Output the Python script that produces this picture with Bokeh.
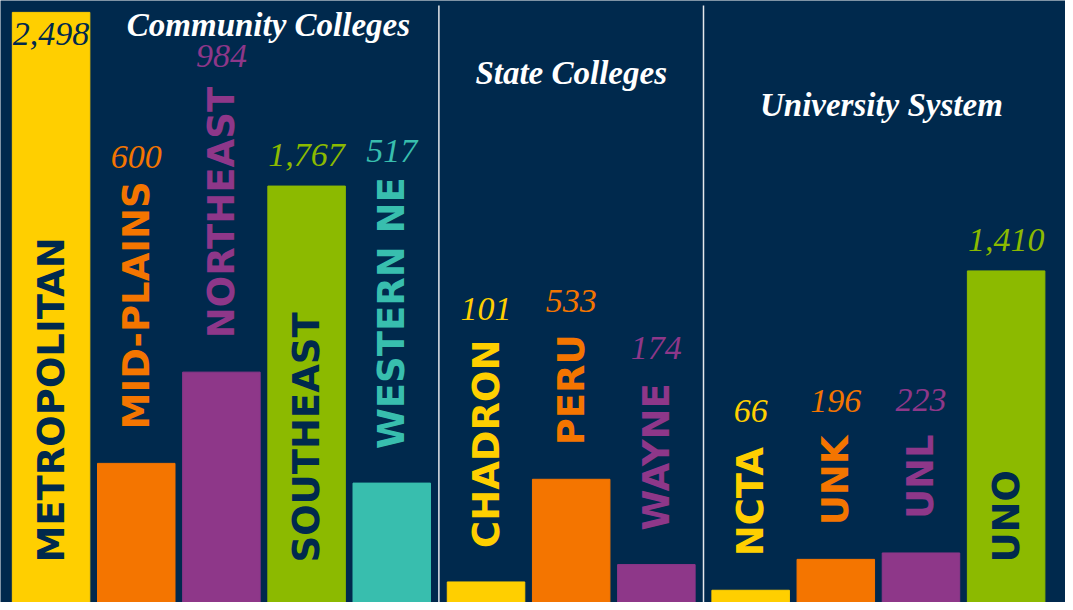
import math
from bokeh.plotting import figure
from bokeh.models import ColumnDataSource, Range1d
from bokeh.core.properties import value
from bokeh.embed import file_html
from bokeh.resources import INLINE

# ---------------- data ----------------
groups = ["Community Colleges", "State Colleges", "University System"]
names = ["METROPOLITAN", "MID-PLAINS", "NORTHEAST", "SOUTHEAST", "WESTERN NE",
         "CHADRON", "PERU", "WAYNE",
         "NCTA", "UNK", "UNL", "UNO"]
group_index = [0, 0, 0, 0, 0, 1, 1, 1, 2, 2, 2, 2]
values = [2498, 600, 984, 1767, 517, 101, 533, 174, 66, 196, 223, 1410]

# ---------------- style ----------------
BG = "#00294D"
YELLOW, ORANGE, PURPLE, GREEN, TEAL = "#FFCF00", "#F47500", "#8E3789", "#8CBA00", "#38BEAE"
colors = [YELLOW, ORANGE, PURPLE, GREEN, TEAL,
          YELLOW, ORANGE, PURPLE,
          YELLOW, ORANGE, PURPLE, GREEN]

W, H = 1065, 602
GAP = 0.107          # extra space between groups (in bar units)
BAR_W = 0.91
X0, X1 = -0.594, 11.911
Y0, Y1 = 14.5, 2548
ppu = H / (Y1 - Y0)  # screen px per value unit

NAME_FS = 37
VAL_FS = 34
TITLE_FS = 33

# approximate advance widths (em) of DejaVu Sans Bold for measuring names
adv = {"A": .774, "C": .734, "D": .830, "E": .683, "H": .837, "I": .372, "K": .775,
       "L": .637, "M": .87, "N": .837, "O": .850, "P": .733, "R": .770, "S": .720,
       "T": .682, "U": .812, "W": 1.03, "Y": .724, "-": .415, " ": .348}

def name_len(s):
    return sum(adv.get(c, .7) for c in s) * NAME_FS * 0.97

xs = [i + GAP * g for i, g in enumerate(group_index)]

p = figure(width=W, height=H, x_range=Range1d(X0, X1), y_range=Range1d(Y0, Y1),
           output_backend="svg", toolbar_location=None, min_border=0,
           background_fill_color=BG, border_fill_color=BG, outline_line_color=None)
p.axis.visible = False
p.grid.visible = False

p.vbar(x=xs, top=values, bottom=0, width=BAR_W, color=colors)

# dividers between groups
div_x = []
for k in range(1, len(groups)):
    last = max(x for x, g in zip(xs, group_index) if g == k - 1)
    first = min(x for x, g in zip(xs, group_index) if g == k)
    div_x.append((last + first) / 2)
div_top = Y1 - 5 / ppu
p.segment(x0=div_x, x1=div_x, y0=[Y0] * len(div_x), y1=[div_top] * len(div_x),
          line_color="#E4E7EB", line_width=1.5)

# names and value labels
n_in = dict(x=[], y=[], t=[], off=[])
n_out = dict(x=[], y=[], t=[], c=[], off=[])
v_lab = dict(x=[], y=[], t=[], c=[], off=[])
for x, nm, v, c in zip(xs, names, values, colors):
    bar_px = (v - Y0) * ppu
    top_px = H - bar_px
    L = name_len(nm)
    lab = f"{v:,}"
    if bar_px > L + 120:
        n_in["x"].append(x); n_in["y"].append(Y0); n_in["t"].append(nm); n_in["off"].append(-40)
        if top_px - 31 - 26 < 0:
            v_lab["x"].append(x); v_lab["y"].append(v); v_lab["t"].append(lab)
            v_lab["c"].append(BG); v_lab["off"].append(22)
        else:
            v_lab["x"].append(x); v_lab["y"].append(v); v_lab["t"].append(lab)
            v_lab["c"].append(c); v_lab["off"].append(-31)
    else:
        n_out["x"].append(x); n_out["y"].append(v); n_out["t"].append(nm)
        n_out["c"].append(c); n_out["off"].append(-34)
        v_lab["x"].append(x); v_lab["y"].append(v); v_lab["t"].append(lab)
        v_lab["c"].append(c); v_lab["off"].append(-(34 + L + 37))

p.text(x="x", y="y", text="t", y_offset="off", source=ColumnDataSource(n_in),
       angle=math.pi / 2, text_align="left", text_baseline="middle",
       text_color=BG, text_font=value("DejaVu Sans"), text_font_style="bold",
       text_font_size=f"{NAME_FS}px")
p.text(x="x", y="y", text="t", y_offset="off", source=ColumnDataSource(n_out),
       angle=math.pi / 2, text_align="left", text_baseline="middle",
       text_color="c", text_font=value("DejaVu Sans"), text_font_style="bold",
       text_font_size=f"{NAME_FS}px")
p.text(x="x", y="y", text="t", y_offset="off", source=ColumnDataSource(v_lab),
       text_align="center", text_baseline="alphabetic",
       text_color="c", text_font=value("Liberation Serif"), text_font_style="italic",
       text_font_size=f"{VAL_FS}px")

# group titles
title_x = []
for k in range(len(groups)):
    gx = [x for x, g in zip(xs, group_index) if g == k]
    title_x.append((min(gx) + max(gx)) / 2)
title_off_x = [47, 0, 3]
title_off_y = [24, 72, 104]
p.text(x=title_x, y=[Y1] * len(groups), text=groups, x_offset=title_off_x,
       y_offset=title_off_y, text_align="center", text_baseline="alphabetic",
       text_color="white", text_font=value("Liberation Serif"),
       text_font_style="bold italic", text_font_size=f"{TITLE_FS}px")

open("out.html", "w").write(file_html(p, INLINE))
